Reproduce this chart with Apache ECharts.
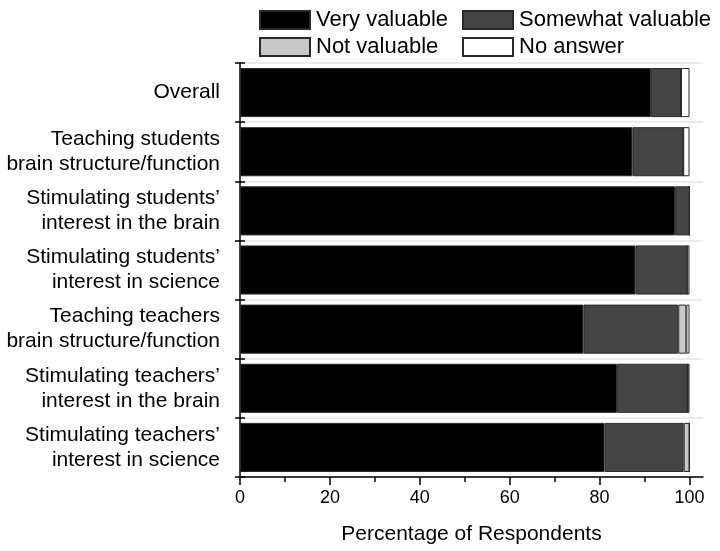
<!DOCTYPE html>
<html><head><meta charset="utf-8">
<script src="https://cdn.jsdelivr.net/npm/echarts@6/dist/echarts.min.js"></script>
<style>html,body{margin:0;padding:0;background:#fff}#c{width:720px;height:551px}</style>
</head><body><div id="c"></div>
<script>
const categories = [
  "Overall",
  "Teaching students\nbrain structure/function",
  "Stimulating students’\ninterest in the brain",
  "Stimulating students’\ninterest in science",
  "Teaching teachers\nbrain structure/function",
  "Stimulating teachers’\ninterest in the brain",
  "Stimulating teachers’\ninterest in science"
];
const veryValuable     = [91.4, 87.3, 96.8, 88.0, 76.4, 83.9, 81.1];
const somewhatValuable = [6.7, 11.3, 3.2, 11.5, 21.1, 15.7, 17.6];
const notValuable      = [0, 0, 0, 0, 1.8, 0, 1.3];
const noAnswer         = [1.9, 1.4, 0, 0.5, 0.7, 0.4, 0];
const majorTicks = [0, 20, 40, 60, 80, 100];
const minorTicks = [10, 30, 50, 70, 90];

const FONT = "'Liberation Sans', Arial, sans-serif";
const names = ["Very valuable", "Somewhat valuable", "Not valuable", "No answer"];
const colors = ["#000000", "#454545", "#c8c8c8", "#ffffff"];
const datas = [veryValuable, somewhatValuable, notValuable, noAnswer];

const chart = echarts.init(document.getElementById('c'), null, {renderer: 'canvas'});
const legendPos = [[259, 9], [462, 9], [259, 36], [462, 36]];
const legends = names.map((n, i) => ({
  data: [n], left: legendPos[i][0], top: legendPos[i][1],
  itemWidth: 50, itemHeight: 18, itemGap: 8, padding: 0,
  icon: 'rect', selectedMode: false,
  textStyle: {fontSize: 22, color: '#000', fontFamily: FONT, padding: [0, 0, 0, 1]}
}));

chart.setOption({
  animation: false,
  backgroundColor: '#fff',
  legend: legends,
  grid: {left: 240, right: 17, top: 63, bottom: 74},
  xAxis: [{
    type: 'value', min: 0, max: 103,
    name: 'Percentage of Respondents', nameLocation: 'middle', nameGap: 47,
    nameTextStyle: {fontSize: 21, color: '#000', fontFamily: FONT},
    axisLine: {show: true, lineStyle: {color: '#000', width: 1.5}},
    axisTick: {show: true, customValues: majorTicks, length: 8, lineStyle: {color: '#000', width: 1.5}},
    axisLabel: {customValues: majorTicks, fontSize: 18, color: '#000', fontFamily: FONT, margin: 12},
    splitLine: {show: false}
  }, {
    type: 'value', min: 0, max: 103, position: 'bottom',
    axisLine: {show: false},
    axisTick: {show: true, customValues: minorTicks, length: 5, lineStyle: {color: '#000', width: 1.5}},
    axisLabel: {show: false},
    splitLine: {show: false}
  }],
  yAxis: [{
    type: 'category', data: categories, inverse: true,
    axisLine: {show: true, lineStyle: {color: '#000', width: 1.5}},
    axisTick: {show: true, length: 5, lineStyle: {color: '#000', width: 1.5}},
    axisLabel: {fontSize: 21, lineHeight: 25, color: '#000', fontFamily: FONT, margin: 20, align: 'right'},
    splitLine: {show: true, lineStyle: {color: '#e4e4e4', width: 1.5}}
  }, {
    type: 'category', data: categories, inverse: true, position: 'left',
    axisLine: {show: false},
    axisTick: {show: true, inside: true, length: 5, lineStyle: {color: '#000', width: 1.5}},
    axisLabel: {show: false},
    splitLine: {show: false}
  }],
  series: names.map((n, i) => ({
    name: n, type: 'bar', stack: 'total', data: datas[i],
    barCategoryGap: '17%',
    itemStyle: {color: colors[i], borderColor: '#2a2a2a', borderWidth: 1}
  }))
});
</script></body></html>
